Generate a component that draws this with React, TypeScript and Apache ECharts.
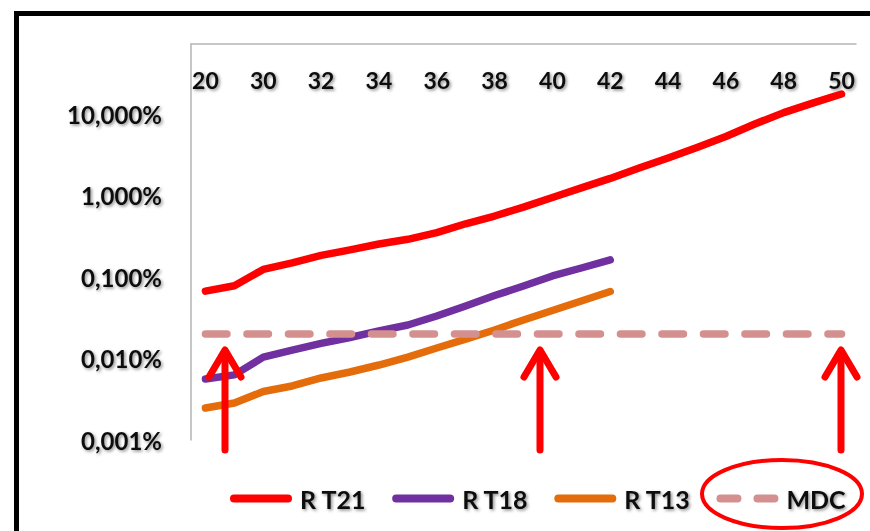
import React, { useEffect, useRef } from "react";
import * as echarts from "echarts";

// Ages (category axis, shown at the top; every other label displayed)
const ages = [
  "20", "25", "30", "31", "32", "33", "34", "35", "36", "37", "38", "39",
  "40", "41", "42", "43", "44", "45", "46", "47", "48", "49", "50",
];

// Risks in percent
const rT21 = [
  0.067, 0.078, 0.124, 0.149, 0.184, 0.215, 0.254, 0.29, 0.35, 0.45, 0.56, 0.72,
  0.945, 1.24, 1.62, 2.17, 2.88, 3.88, 5.3, 7.54, 10.4, 13.6, 17.6,
];
const rT18 = [
  0.0056, 0.0063, 0.0104, 0.0127, 0.0153, 0.0181, 0.0218, 0.0258, 0.0332, 0.0441,
  0.0593, 0.0776, 0.103, 0.129, 0.162,
];
const rT13 = [
  0.00247, 0.00284, 0.00394, 0.0046, 0.00577, 0.00683, 0.00832, 0.0104, 0.01345,
  0.0173, 0.0224, 0.0297, 0.0388, 0.0508, 0.0664,
];
const mdc = [
  0.02, 0.02, 0.02, 0.02, 0.02, 0.02, 0.02, 0.02, 0.02, 0.02, 0.02, 0.02,
  0.02, 0.02, 0.02, 0.02, 0.02, 0.02, 0.02, 0.02, 0.02, 0.02, 0.02,
];

const seriesNames = ["R T21", "R T18", "R T13", "MDC"];
const seriesColors = ["#FF0000", "#7030A0", "#E46C0A", "#D4908F"];
const yMin = 0.001;
const yMax = 72.3;

// Annotation arrows (x positions of the red arrows)
const arrowXs = [225, 540, 841];

const FONT = "Lato";
const shadow = {
  textShadowColor: "rgba(0,0,0,0.45)",
  textShadowBlur: 3,
  textShadowOffsetX: 1.5,
  textShadowOffsetY: 1.5,
};

const solidIcon = "path://M4,0 H58 A4,4 0 0 1 58,8 H4 A4,4 0 0 1 4,0 Z";
const dashIcon =
  "path://M4,0 H21 A4,4 0 0 1 21,8 H4 A4,4 0 0 1 4,0 Z M41,0 H58 A4,4 0 0 1 58,8 H41 A4,4 0 0 1 41,0 Z";

export default function App() {
  const ref = useRef<HTMLDivElement>(null);

  useEffect(() => {
    if (!ref.current) return;
    const chart = echarts.init(ref.current, undefined, { renderer: "svg" });

    const arrowGraphics: any[] = [];
    arrowXs.forEach((x) => {
      arrowGraphics.push({
        type: "line",
        shape: { x1: x, y1: 450, x2: x, y2: 352 },
        style: { stroke: "#FF0000", lineWidth: 7, lineCap: "round" },
        z: 100,
      });
      arrowGraphics.push({
        type: "polyline",
        shape: { points: [[x - 16, 377], [x, 350], [x + 16, 377]] },
        style: { stroke: "#FF0000", lineWidth: 7, lineCap: "round", lineJoin: "round", fill: "none" },
        z: 100,
      });
    });

    const lineStyleBase = { width: 7.5, cap: "round", join: "round" };

    chart.setOption({
      animation: false,
      backgroundColor: "#ffffff",
      grid: { left: 191, right: 14, top: 44, bottom: 91, containLabel: false },
      xAxis: {
        type: "category",
        position: "top",
        data: ages,
        boundaryGap: true,
        axisLine: { show: true, lineStyle: { color: "#B5B5B5", width: 1.5 } },
        axisTick: { show: false },
        splitLine: { show: false },
        axisLabel: {
          inside: true,
          interval: 1,
          margin: 24,
          color: "#111",
          fontFamily: FONT,
          fontWeight: "bold",
          fontSize: 23,
          ...shadow,
        },
      },
      yAxis: {
        type: "log",
        logBase: 10,
        min: yMin,
        max: yMax,
        axisLine: { show: true, lineStyle: { color: "#B5B5B5", width: 1.5 } },
        axisTick: { show: false },
        splitLine: { show: false },
        minorSplitLine: { show: false },
        axisLabel: {
          showMaxLabel: false,
          margin: 29,
          color: "#111",
          fontFamily: FONT,
          fontWeight: "bold",
          fontSize: 24,
          ...shadow,
          formatter: (v: number) => {
            const e = Math.log10(v);
            if (Math.abs(e - Math.round(e)) > 1e-6) return "";
            return v.toFixed(3).replace(".", ",") + "%";
          },
        },
      },
      legend: {
        data: seriesNames.map((n, i) => ({
          name: n,
          icon: i === 3 ? dashIcon : solidIcon,
          itemStyle: { color: seriesColors[i] },
        })),
        left: 225,
        top: 481,
        itemWidth: 62,
        itemHeight: 8,
        itemGap: 26,
        textStyle: {
          color: "#111",
          fontFamily: FONT,
          fontWeight: "bold",
          fontSize: 25,
          padding: [0, 0, 0, 3],
          ...shadow,
        },
      },
      series: seriesNames.map((n, i) => ({
        name: n,
        type: "line",
        data: [rT21, rT18, rT13, mdc][i],
        symbol: "none",
        color: seriesColors[i],
        lineStyle:
          i === 3
            ? { ...lineStyleBase, color: seriesColors[i], type: [21.5, 20] }
            : { ...lineStyleBase, color: seriesColors[i] },
      })),
      graphic: [
        {
          type: "rect",
          shape: { x: 16.5, y: 13.5, width: 1000, height: 1000 },
          style: { fill: "none", stroke: "#000", lineWidth: 5 },
          z: 100,
        },
        ...arrowGraphics,
        {
          type: "ellipse",
          shape: { cx: 782, cy: 494, rx: 80, ry: 34 },
          style: { fill: "none", stroke: "#FF0000", lineWidth: 4 },
          z: 100,
        },
      ],
    });

    return () => chart.dispose();
  }, []);

  return (
    <div
      ref={ref}
      style={{ position: "fixed", left: 0, top: 0, width: 870, height: 531, background: "#fff" }}
    />
  );
}
